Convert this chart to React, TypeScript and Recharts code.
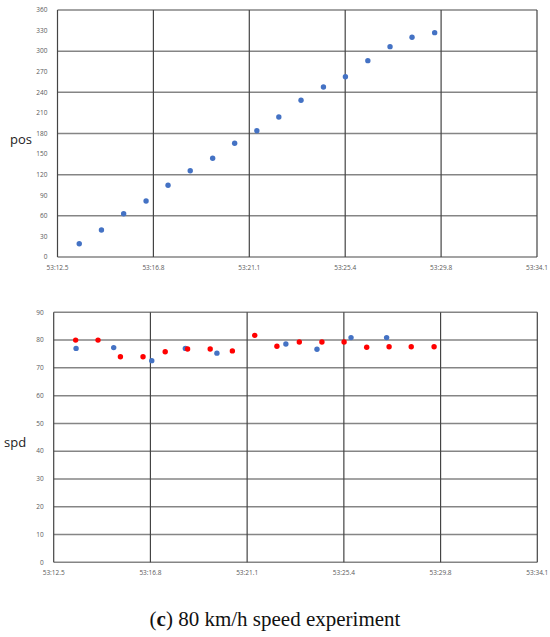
import React from 'react';
import { ScatterChart, Scatter, XAxis, YAxis, CartesianGrid } from 'recharts';

// time axis in seconds after 53 min (ticks every 4.32 s)
const timeTicks = [12.48, 16.8, 21.12, 25.44, 29.76, 34.08];
const posTicks = [0, 30, 60, 90, 120, 150, 180, 210, 240, 270, 300, 330, 360];
const spdTicks = [0, 10, 20, 30, 40, 50, 60, 70, 80, 90];

// 1 s samples
const sampleTimes = [13.46, 14.46, 15.46, 16.47, 17.46, 18.46, 19.47, 20.46, 21.46, 22.45, 23.45, 24.46, 25.45, 26.46, 27.46, 28.45, 29.47];
const posValues = [19.4, 39.4, 63.1, 81.6, 104.5, 125.8, 143.9, 165.7, 184.1, 204.1, 228.4, 247.8, 262.8, 286.2, 306.6, 320.3, 327];
const refSpdValues = [80.0, 80.0, 74.0, 74.0, 75.8, 76.8, 76.8, 76.1, 81.7, 77.8, 79.3, 79.3, 79.3, 77.4, 77.6, 77.6, 77.6];

// measured speed samples
const measTimes = [13.48, 15.16, 16.86, 18.36, 19.77, 22.85, 24.24, 25.76, 27.35];
const measSpdValues = [77.0, 77.3, 72.6, 77.0, 75.3, 78.6, 76.7, 80.9, 80.9];

const posData = sampleTimes.map((t, i) => ({ t, v: posValues[i] }));
const refSpdData = sampleTimes.map((t, i) => ({ t, v: refSpdValues[i] }));
const measSpdData = measTimes.map((t, i) => ({ t, v: measSpdValues[i] }));

const BLUE = '#4472C4';
const RED = '#FF0000';
const tickStyle = { fill: '#595959', fontSize: 6.5, fontFamily: 'Open Sans, sans-serif' };
const fmtTime = (v: number) => `53:${v.toFixed(1)}`;

const dot = (color: string) => (props: any) => (
    <circle cx={props.cx} cy={props.cy} r={2.7} fill={color} />
);

const App: React.FC = () => {
    return (
        <div style={{ position: 'absolute', left: 0, top: 0, width: 550, height: 637, background: '#fff' }}>
            <div style={{ position: 'absolute', left: 0, top: 0 }}>
                <ScatterChart width={550} height={275} margin={{ top: 10, right: 13, left: 0, bottom: 0 }}>
                    <CartesianGrid vertical={false} stroke="#858585" strokeWidth={1.5} />
                    <CartesianGrid horizontal={false} stroke="#444" strokeWidth={1.2} />
                    <XAxis type="number" dataKey="t" domain={[12.48, 34.08]} ticks={timeTicks} tickFormatter={fmtTime}
                        axisLine={false} tickLine={false} tick={tickStyle} height={18} tickMargin={2} />
                    <YAxis type="number" dataKey="v" domain={[0, 360]} ticks={posTicks} axisLine={false} tickLine={false}
                        tick={tickStyle} width={57.5} tickMargin={4} />
                    <Scatter data={posData} fill={BLUE} shape={dot(BLUE)} isAnimationActive={false} />
                </ScatterChart>
            </div>
            <div style={{ position: 'absolute', left: 0, top: 295 }}>
                <ScatterChart width={550} height={285} margin={{ top: 17.3, right: 12.7, left: 0, bottom: 0 }}>
                    <CartesianGrid vertical={false} stroke="#858585" strokeWidth={1.5} />
                    <CartesianGrid horizontal={false} stroke="#444" strokeWidth={1.2} />
                    <XAxis type="number" dataKey="t" domain={[12.48, 34.08]} ticks={timeTicks} tickFormatter={fmtTime}
                        axisLine={false} tickLine={false} tick={tickStyle} height={17.7} tickMargin={2} />
                    <YAxis type="number" dataKey="v" domain={[0, 90]} ticks={spdTicks} axisLine={false} tickLine={false}
                        tick={tickStyle} width={53.7} tickMargin={4} />
                    <Scatter data={measSpdData} fill={BLUE} shape={dot(BLUE)} isAnimationActive={false} />
                    <Scatter data={refSpdData} fill={RED} shape={dot(RED)} isAnimationActive={false} />
                </ScatterChart>
            </div>
            <div style={{ position: 'absolute', left: 10, top: 130, fontFamily: 'Open Sans, sans-serif', fontSize: 13, color: '#222' }}>pos</div>
            <div style={{ position: 'absolute', left: 4, top: 433, fontFamily: 'Open Sans, sans-serif', fontSize: 13, color: '#222' }}>spd</div>
            <div style={{ position: 'absolute', left: 0, top: 607, width: 550, textAlign: 'center', fontFamily: 'Liberation Serif, serif', fontSize: 21, color: '#111' }}>
                (<b>c</b>) 80 km/h speed experiment
            </div>
        </div>
    );
};

export default App;
